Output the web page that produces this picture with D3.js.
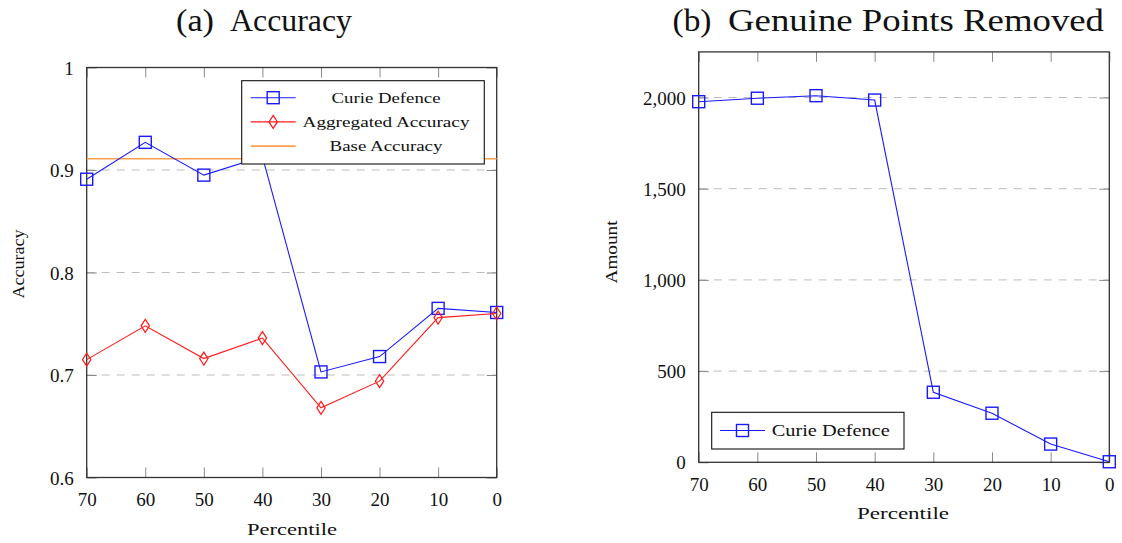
<!DOCTYPE html>
<html>
  <head>
    <meta charset="utf-8">
    <script type="text/javascript" src="https://d3js.org/d3.v7.min.js"></script>
    <style>
      body { margin: 0; background: #fff; }
      svg { font-family: "Liberation Serif", "DejaVu Serif", serif; }
      text { font-family: "Liberation Serif", serif; }
      .grid { stroke: #bdbdbd; stroke-width: 1; stroke-dasharray: 8,7; }
      .tick line { stroke: #8a8a8a; stroke-width: 1; }
      .frame { fill: none; stroke: #333; stroke-width: 1.3; }
    </style>
  </head>
  <body>
    <svg width="1122" height="543"></svg>
    <script>

    // chart data
    var percentiles = [70, 60, 50, 40, 30, 20, 10, 0];
    var curieAccuracy = [0.891, 0.927, 0.895, 0.913, 0.703, 0.718, 0.765, 0.761];
    var aggregatedAccuracy = [0.715, 0.748, 0.716, 0.736, 0.668, 0.694, 0.756, 0.760];
    var baseAccuracy = 0.911;
    var accuracyTicks = [0.6, 0.7, 0.8, 0.9, 1];
    var curieRemoved = [1977, 1996, 2010, 1986, 384, 269, 100, 3];
    var amountTicks = [0, 500, 1000, 1500, 2000];

    var svg = d3.select("svg");
    var blue = "#1a1aff", red = "#ff1a1a", orange = "#f9a04e";

    // draws frame, grid, ticks for one panel
    function drawPanel(g, x, y, yTicks, yFmt) {
      var x0 = x.range()[0], x1 = x.range()[1];
      var y0 = y.range()[0], y1 = y.range()[1];

      g.selectAll("line.grid")
        .data(yTicks.filter(function(d) { return y(d) > y1 + 1 && y(d) < y0 - 1; }))
        .enter().append("line")
        .attr("class", "grid")
        .attr("x1", x0).attr("x2", x1)
        .attr("y1", function(d) { return y(d); })
        .attr("y2", function(d) { return y(d); });

      var bottom = g.append("g").attr("transform", "translate(0," + y0 + ")")
        .call(d3.axisBottom(x).tickValues(percentiles).tickSize(-10).tickPadding(15).tickFormat(d3.format("d")));
      var top = g.append("g").attr("transform", "translate(0," + y1 + ")")
        .call(d3.axisTop(x).tickValues(percentiles).tickSize(-10).tickFormat(""));
      var left = g.append("g").attr("transform", "translate(" + x0 + ",0)")
        .call(d3.axisLeft(y).tickValues(yTicks).tickSize(-10).tickPadding(13).tickFormat(yFmt));
      var right = g.append("g").attr("transform", "translate(" + x1 + ",0)")
        .call(d3.axisRight(y).tickValues(yTicks).tickSize(-10).tickFormat(""));

      [bottom, top, left, right].forEach(function(a) {
        a.select(".domain").remove();
        a.selectAll("text")
          .attr("fill", "#111")
          .style("font-family", "Liberation Serif")
          .style("font-size", "19px");
      });
      left.selectAll("text").attr("dy", "0.35em");

      g.append("rect")
        .attr("class", "frame")
        .attr("x", x0).attr("y", y1)
        .attr("width", x1 - x0).attr("height", y0 - y1);
    }

    function squares(g, pts, color) {
      g.selectAll(null).data(pts).enter().append("rect")
        .attr("x", function(d) { return d[0] - 6; })
        .attr("y", function(d) { return d[1] - 6; })
        .attr("width", 12).attr("height", 12)
        .attr("fill", "none").attr("stroke", color).attr("stroke-width", 1.4);
    }

    function diamonds(g, pts, color) {
      g.selectAll(null).data(pts).enter().append("path")
        .attr("d", function(d) {
          return "M" + d[0] + "," + (d[1] - 6.5) + "L" + (d[0] + 4.2) + "," + d[1] +
                 "L" + d[0] + "," + (d[1] + 6.5) + "L" + (d[0] - 4.2) + "," + d[1] + "Z";
        })
        .attr("fill", "none").attr("stroke", color).attr("stroke-width", 1.2);
    }

    function label(text, x, y, size, len, rotate) {
      var t = svg.append("text")
        .attr("text-anchor", "middle")
        .attr("fill", "#111")
        .style("font-size", size + "px")
        .attr("textLength", len)
        .attr("lengthAdjust", "spacingAndGlyphs")
        .text(text);
      if (rotate) t.attr("transform", "translate(" + x + "," + y + ") rotate(-90)");
      else t.attr("x", x).attr("y", y);
      return t;
    }

    // ---------- panel (a) accuracy ----------
    var xa = d3.scaleLinear().domain([70, 0]).range([86.7, 496.7]);
    var ya = d3.scaleLinear().domain([0.6, 1]).range([477.5, 67.5]);
    var ga = svg.append("g");
    drawPanel(ga, xa, ya, accuracyTicks, function(d) { return d === 1 ? "1" : d.toFixed(1); });

    var line = d3.line();
    var curiePts = percentiles.map(function(p, i) { return [xa(p), ya(curieAccuracy[i])]; });
    var aggPts = percentiles.map(function(p, i) { return [xa(p), ya(aggregatedAccuracy[i])]; });

    ga.append("line")
      .attr("x1", xa(70)).attr("x2", xa(0))
      .attr("y1", ya(baseAccuracy)).attr("y2", ya(baseAccuracy))
      .attr("stroke", orange).attr("stroke-width", 1.6);
    ga.append("path").attr("d", line(curiePts)).attr("fill", "none").attr("stroke", blue).attr("stroke-width", 1.1);
    squares(ga, curiePts, blue);
    ga.append("path").attr("d", line(aggPts)).attr("fill", "none").attr("stroke", red).attr("stroke-width", 1.1);
    diamonds(ga, aggPts, red);

    // legend (a)
    var la = ga.append("g");
    la.append("rect").attr("x", 241.7).attr("y", 80.7).attr("width", 242.6).attr("height", 83.3)
      .attr("fill", "#fff").attr("stroke", "#111").attr("stroke-width", 1.1);
    var legendA = [
      {name: "Curie Defence", color: blue, mark: "square", len: 109},
      {name: "Aggregated Accuracy", color: red, mark: "diamond", len: 167},
      {name: "Base Accuracy", color: orange, mark: "none", len: 113}
    ];
    legendA.forEach(function(d, i) {
      var yy = 97.7 + i * 24.2;
      la.append("line").attr("x1", 250.7).attr("x2", 295.7).attr("y1", yy).attr("y2", yy)
        .attr("stroke", d.color).attr("stroke-width", d.mark === "none" ? 1.6 : 1.1);
      if (d.mark === "square") squares(la, [[273.2, yy]], d.color);
      if (d.mark === "diamond") diamonds(la, [[273.2, yy]], d.color);
      la.append("text").attr("x", 386).attr("y", yy + 5).attr("text-anchor", "middle")
        .attr("fill", "#111").style("font-size", "15px")
        .attr("textLength", d.len).attr("lengthAdjust", "spacingAndGlyphs")
        .text(d.name);
    });

    // ---------- panel (b) genuine points removed ----------
    var xb = d3.scaleLinear().domain([70, 0]).range([698.7, 1109.3]);
    var yb = d3.scaleLinear().domain([0, 2250]).range([462.3, 51.9]);
    var gb = svg.append("g");
    drawPanel(gb, xb, yb, amountTicks, d3.format(","));

    var removedPts = percentiles.map(function(p, i) { return [xb(p), yb(curieRemoved[i])]; });
    gb.append("path").attr("d", line(removedPts)).attr("fill", "none").attr("stroke", blue).attr("stroke-width", 1.1);
    squares(gb, removedPts, blue);

    // legend (b)
    gb.append("rect").attr("x", 711.7).attr("y", 412.3).attr("width", 192.3).attr("height", 36.7)
      .attr("fill", "#fff").attr("stroke", "#111").attr("stroke-width", 1.1);
    gb.append("line").attr("x1", 720).attr("x2", 765).attr("y1", 430.5).attr("y2", 430.5)
      .attr("stroke", blue).attr("stroke-width", 1.1);
    squares(gb, [[742.5, 430.5]], blue);
    gb.append("text").attr("x", 771.7).attr("y", 435.5)
      .attr("fill", "#111").style("font-size", "16px")
      .attr("textLength", 118).attr("lengthAdjust", "spacingAndGlyphs")
      .text("Curie Defence");

    // titles and axis labels
    label("(a)", 195, 31, 32, 38);
    label("Accuracy", 291, 31, 32, 122);
    label("(b)", 692, 31, 32, 39);
    label("Genuine Points Removed", 916, 31, 32, 376);

    label("Percentile", 292, 535, 16, 90);
    label("Percentile", 903, 519, 16, 92);
    label("Accuracy", 24, 264, 16, 69, true);
    label("Amount", 617, 252, 16, 63, true);

    </script>
  </body>
</html>
